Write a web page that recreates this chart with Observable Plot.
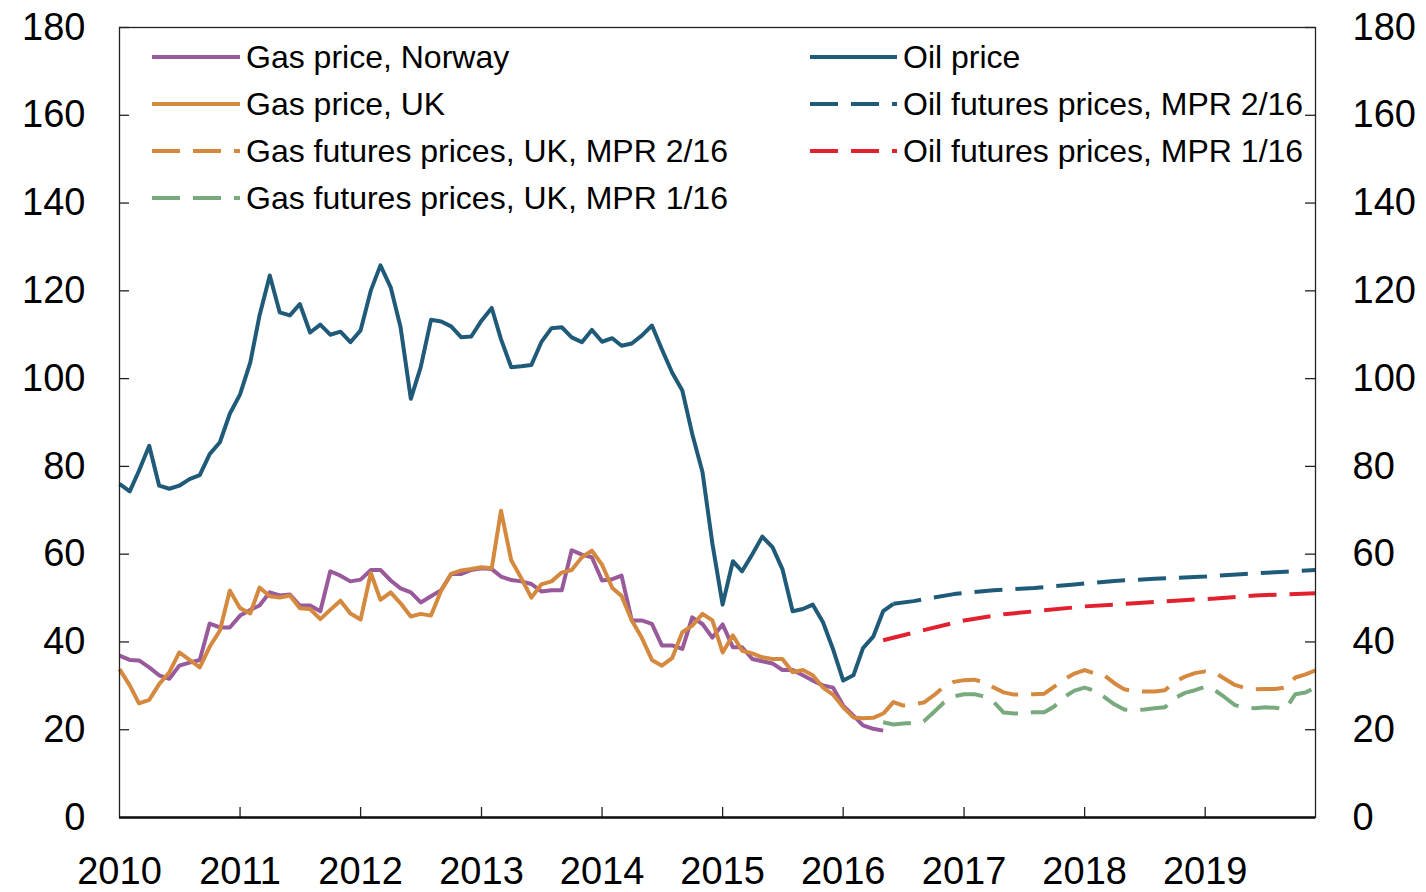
<!DOCTYPE html>
<html>
<head>
<meta charset="utf-8">
<script src="https://cdn.jsdelivr.net/npm/d3@7"></script>
<script src="https://cdn.jsdelivr.net/npm/@observablehq/plot@0.6"></script>
<style>
  html, body { margin: 0; padding: 0; background: #fff; }
  #chart { width: 1426px; height: 892px; }
  svg { font-family: "Liberation Sans", Arial, Helvetica, sans-serif; }
</style>
</head>
<body>
<div id="chart"></div>
<script>
// ---- Data (USD per barrel), monthly ----
const oilStart = "2010-01";
const oilPrice = [
  76.0, 74.3, 79.0, 84.7, 75.6, 74.9, 75.6, 77.1, 78.0, 82.8, 85.5, 92.0,
  96.4, 103.7, 114.4, 123.5, 115.1, 114.4, 117.0, 110.5, 112.3, 110.0, 110.7, 108.3,
  111.0, 120.1, 125.8, 120.8, 111.7, 95.4, 102.6, 113.4, 113.0, 111.9, 109.4, 109.6,
  113.2, 116.1, 109.0, 102.6, 102.8, 103.1, 108.3, 111.5, 111.7, 109.4, 108.3, 111.1,
  108.4, 109.2, 107.5, 108.0, 109.8, 112.1, 106.7, 101.4, 97.3, 87.4, 78.7, 62.4,
  48.5, 58.4, 56.1, 60.0, 64.0, 61.6, 56.6, 47.0, 47.5, 48.5, 44.5, 38.4,
  31.2, 32.4, 38.6, 41.2, 47.0, 48.7
];
const gasStart = "2010-01";
const gasNorway = [
  36.9, 35.9, 35.8, 34.2, 32.4, 31.6, 34.6, 35.3, 35.9, 44.2, 43.3, 43.3,
  46.0, 47.3, 48.3, 51.3, 50.6, 50.8, 48.3, 48.3, 47.0, 56.1, 55.1, 53.8,
  54.2, 56.4, 56.4, 54.0, 52.2, 51.3, 49.0, 50.4, 51.8, 55.5, 55.5, 56.4,
  56.8, 56.6, 54.9, 54.1, 53.8, 53.2, 51.5, 51.8, 51.8, 60.9, 59.9, 59.3,
  54.0, 54.3, 55.1, 44.9, 44.9, 44.1, 39.2, 39.2, 38.4, 45.6, 44.1, 41.0,
  44.0, 38.8, 38.8, 36.1, 35.6, 35.1, 33.6, 33.6, 32.4, 31.2, 30.1, 29.6,
  25.5, 23.2, 21.0, 20.2, 19.8
];
const gasUK = [
  33.8, 30.1, 26.0, 26.8, 30.4, 33.1, 37.6, 35.9, 34.2, 38.9, 42.6, 51.7,
  47.7, 46.5, 52.4, 50.4, 50.1, 50.6, 47.7, 47.5, 45.2, 47.3, 49.4, 46.5,
  45.1, 55.7, 49.6, 51.3, 48.8, 45.8, 46.4, 46.0, 51.7, 55.5, 56.3, 56.6,
  57.0, 56.8, 69.9, 58.6, 54.6, 50.1, 53.1, 53.8, 55.8, 56.4, 59.3, 60.8,
  57.6, 52.3, 50.5, 44.9, 41.0, 35.9, 34.6, 36.3, 42.2, 43.7, 46.4, 44.9,
  37.6, 41.5, 38.0, 37.4, 36.5, 36.1, 36.1, 33.1, 33.6, 32.4, 29.6, 28.0,
  25.1, 22.8, 22.6, 22.7, 23.7
];
const gasFutStart = "2016-05";
const gasFutUK216 = [
  23.6, 26.3, 25.5, 25.8, 26.2, 27.8, 29.8, 30.9,
  31.3, 31.4, 30.8, 29.6, 28.5, 28.0, 28.0, 28.1, 28.2, 29.8, 31.5, 32.8,
  33.6, 32.8, 32.4, 30.6, 29.2, 28.8, 28.7, 28.7, 29.0, 30.9, 32.1, 32.9,
  33.3, 32.9, 31.6, 30.2, 29.5, 29.2, 29.3, 29.3, 29.6, 31.9, 32.6, 33.5
];
const gasFutUK116 = [
  21.7, 21.2, 21.4, 21.6, 21.9, 24.0, 26.2, 27.6,
  28.1, 28.1, 27.6, 26.3, 23.9, 23.7, 23.7, 24.0, 24.0, 25.3, 27.5, 28.9,
  29.6, 28.9, 27.5, 25.8, 24.6, 24.5, 24.6, 24.9, 25.1, 27.2, 28.4, 29.0,
  29.8, 28.9, 27.4, 25.6, 25.0, 24.9, 25.1, 25.0, 24.7, 28.1, 28.5, 29.6
];
const oilFut216Dates = ["2016-06","2016-08","2016-12","2017-04","2017-08","2017-12","2018-04","2018-08","2019-01","2019-05","2019-09","2019-12"];
const oilFut216 = [48.7, 49.3, 50.9, 51.8, 52.3, 53.1, 53.9, 54.4, 54.9, 55.5, 56.0, 56.4];
const oilFut116Dates = ["2016-05","2016-09","2017-01","2017-05","2017-09","2018-01","2018-06","2018-10","2019-02","2019-06","2019-12"];
const oilFut116 = [40.4, 42.7, 44.9, 46.3, 47.2, 48.1, 48.8, 49.4, 49.9, 50.6, 51.1];

const yTicks = [0, 20, 40, 60, 80, 100, 120, 140, 160, 180];
const xTickYears = [2010, 2011, 2012, 2013, 2014, 2015, 2016, 2017, 2018, 2019];

const legendLeft = [
  {label: "Gas price, Norway", key: "norway"},
  {label: "Gas price, UK", key: "uk"},
  {label: "Gas futures prices, UK, MPR 2/16", key: "gf216"},
  {label: "Gas futures prices, UK, MPR 1/16", key: "gf116"}
];
const legendRight = [
  {label: "Oil price", key: "oil"},
  {label: "Oil futures prices, MPR 2/16", key: "of216"},
  {label: "Oil futures prices, MPR 1/16", key: "of116"}
];

// ---- Styles ----
const colors = {
  oil: "#1f5a79", of216: "#1f5a79", of116: "#e2212e",
  norway: "#985a9b", uk: "#d4893e", gf216: "#d4893e", gf116: "#79aa7d"
};
const dashed = {gf216: true, gf116: true, of216: true, of116: true};
const DASH = "28,13";
const LW = 4;

// ---- Build tables ----
const parseM = d3.utcParse("%Y-%m");
function monthly(startStr, values) {
  const s = parseM(startStr);
  return values.map((v, i) => ({date: d3.utcMonth.offset(s, i), value: v}));
}
function paired(dates, values) {
  return dates.map((d, i) => ({date: parseM(d), value: values[i]}));
}
const series = {
  norway: monthly(gasStart, gasNorway),
  uk: monthly(gasStart, gasUK),
  gf216: monthly(gasFutStart, gasFutUK216),
  gf116: monthly(gasFutStart, gasFutUK116),
  oil: monthly(oilStart, oilPrice),
  of216: paired(oilFut216Dates, oilFut216),
  of116: paired(oilFut116Dates, oilFut116)
};
const xTicks = xTickYears.map(y => new Date(Date.UTC(y, 0, 1)));

const W = 1426, H = 892;
const mL = 119, mR = 111, mT = 27, mB = 75;
const plotW = W - mL - mR, plotH = H - mT - mB;
const TICK = 10;

const drawOrder = ["gf116", "gf216", "of116", "of216", "norway", "uk", "oil"];
const lineMarks = drawOrder.map(k => Plot.line(series[k], {
  x: "date", y: "value", stroke: colors[k], strokeWidth: LW,
  strokeDasharray: dashed[k] ? DASH : null, strokeLinejoin: "round", strokeLinecap: "butt"
}));

const chart = Plot.plot({
  width: W, height: H,
  marginLeft: mL, marginRight: mR, marginTop: mT, marginBottom: mB,
  x: {type: "utc", domain: [parseM("2010-01"), parseM("2019-12")]},
  y: {domain: [0, 180]},
  style: {fontFamily: '"Liberation Sans", Arial, sans-serif', background: "#fff", color: "#000"},
  marks: [
    // inward ticks
    Plot.tickX(xTicks.slice(1), {x: d => d, stroke: "#222", strokeWidth: 1.3, insetTop: plotH - TICK}),
    Plot.tickY(yTicks.slice(1), {y: d => d, stroke: "#222", strokeWidth: 1.3, insetRight: plotW - TICK}),
    Plot.tickY(yTicks.slice(1), {y: d => d, stroke: "#222", strokeWidth: 1.3, insetLeft: plotW - TICK}),
    // axes labels
    Plot.axisY(yTicks, {anchor: "left", tickSize: 0, tickPadding: 34, fontSize: 38, label: null, fill: "#000"}),
    Plot.axisY(yTicks, {anchor: "right", tickSize: 0, tickPadding: 37, fontSize: 38, label: null, fill: "#000"}),
    Plot.axisX(xTicks, {anchor: "bottom", tickSize: 0, tickPadding: 40, fontSize: 38, label: null, fill: "#000",
      tickFormat: d3.utcFormat("%Y")}),
    ...lineMarks,
    Plot.frame({stroke: "#222", strokeWidth: 1.3}),
    Plot.ruleY([0], {stroke: "#111", strokeWidth: 2.6})
  ]
});

// ---- Legend inside plot area ----
const svg = d3.select(chart);
const lg = svg.append("g").attr("class", "legend")
  .attr("text-anchor", "start")
  .style("text-anchor", "start")
  .style("font-family", '"Liberation Sans", Arial, sans-serif').style("font-size", "32px");
const rowY = [57, 104, 151, 198];
function addItems(items, x0, x1, tx) {
  items.forEach((it, i) => {
    const y = rowY[i];
    lg.append("line").attr("x1", x0).attr("x2", x1).attr("y1", y).attr("y2", y)
      .attr("stroke", colors[it.key]).attr("stroke-width", LW)
      .attr("stroke-dasharray", dashed[it.key] ? DASH : null);
    lg.append("text").attr("x", tx).attr("y", y).attr("dy", "0.35em")
      .attr("text-anchor", "start").style("text-anchor", "start")
      .attr("fill", "#000").text(it.label);
  });
}
addItems(legendLeft, 152, 240, 246);
addItems(legendRight, 810, 897, 903);

document.getElementById("chart").appendChild(chart);
</script>
</body>
</html>
